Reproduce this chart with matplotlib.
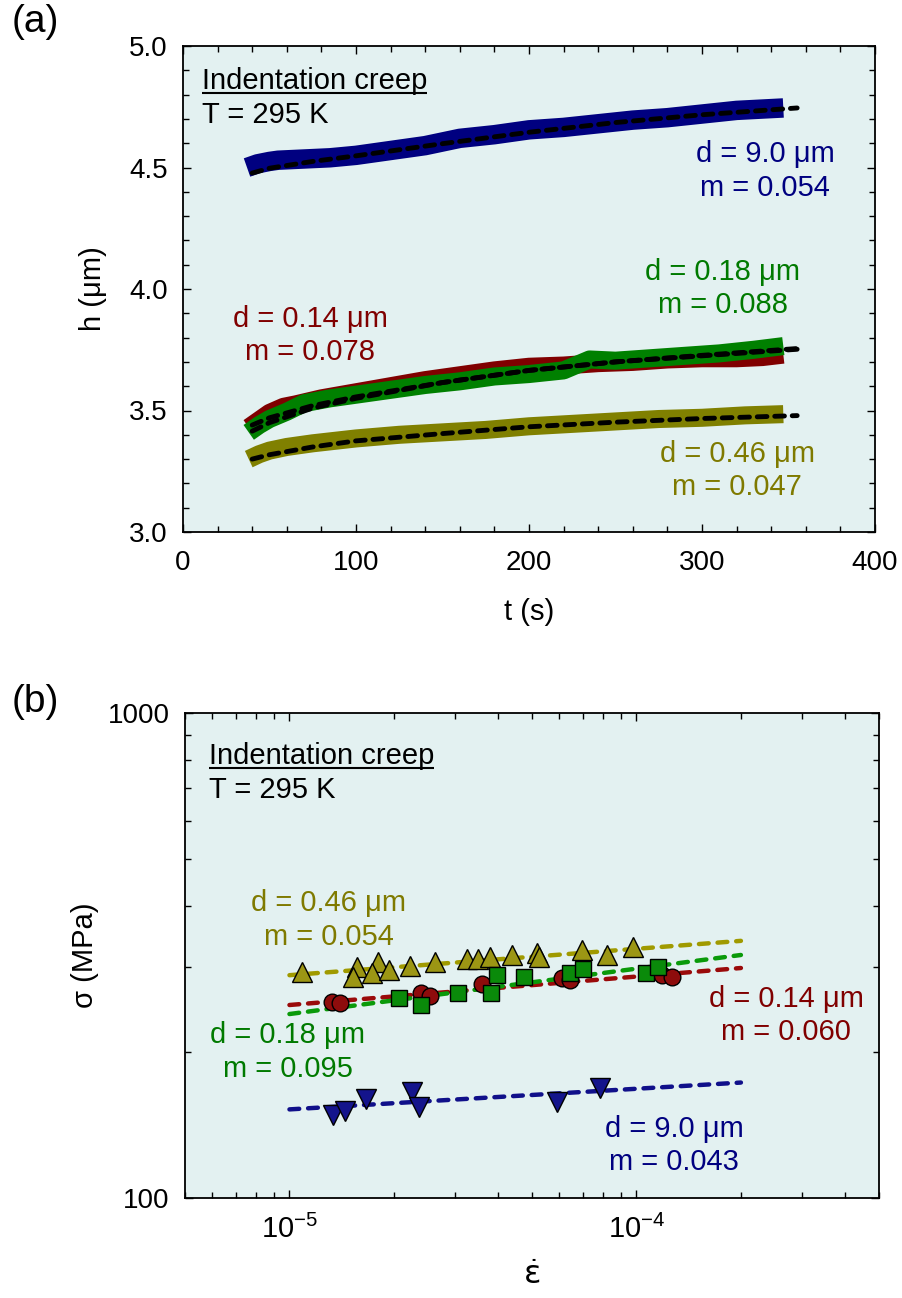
import numpy as np
import matplotlib
matplotlib.use('Agg')
import matplotlib.pyplot as plt
from matplotlib.ticker import MultipleLocator, LogLocator, NullFormatter, FuncFormatter, LogFormatterSciNotation

plt.rcParams['font.family'] = ['Liberation Sans', 'DejaVu Sans']
plt.rcParams['mathtext.default'] = 'regular'
plt.rcParams['axes.unicode_minus'] = False

# ---- panel (a): indentation depth vs time ----
t_blue = [37, 43, 50, 55, 70, 85, 100, 120, 140, 160, 180, 200, 220, 240, 260, 280, 300, 320, 347]
h_blue = [4.50, 4.515, 4.525, 4.53, 4.535, 4.54, 4.55, 4.57, 4.59, 4.62, 4.635, 4.655, 4.665, 4.68,
          4.695, 4.705, 4.72, 4.735, 4.745]
t_red = [38, 44, 50, 58, 65, 80, 100, 120, 140, 160, 180, 200, 220, 240, 260, 280, 300, 320, 335, 347]
h_red = [3.43, 3.46, 3.49, 3.515, 3.525, 3.55, 3.575, 3.60, 3.625, 3.645, 3.665, 3.68, 3.685, 3.695,
         3.70, 3.71, 3.715, 3.715, 3.72, 3.73]
t_green = [38, 44, 50, 60, 70, 85, 100, 120, 140, 160, 180, 200, 220, 235, 250, 270, 290, 310, 330, 347]
h_green = [3.41, 3.44, 3.465, 3.495, 3.53, 3.55, 3.565, 3.585, 3.605, 3.62, 3.64, 3.65, 3.665, 3.71,
           3.705, 3.715, 3.725, 3.735, 3.75, 3.765]
t_olive = [38, 44, 50, 60, 75, 100, 125, 150, 175, 200, 225, 250, 275, 300, 325, 347]
h_olive = [3.30, 3.32, 3.335, 3.35, 3.365, 3.385, 3.40, 3.41, 3.42, 3.435, 3.445, 3.455, 3.465,
           3.47, 3.48, 3.485]

t_fit = [40, 50, 75, 100, 150, 200, 250, 300, 355]
hfit_blue = [4.477, 4.497, 4.525, 4.548, 4.598, 4.645, 4.685, 4.717, 4.745]
hfit_red = [3.44, 3.47, 3.52, 3.556, 3.615, 3.665, 3.70, 3.725, 3.752]
hfit_green = [3.415, 3.45, 3.51, 3.55, 3.615, 3.665, 3.70, 3.727, 3.755]
hfit_olive = [3.30, 3.318, 3.35, 3.375, 3.405, 3.433, 3.452, 3.467, 3.479]

# ---- panel (b): stress vs strain rate ----
rate_fit = [1e-5, 2e-4]
sfit_olive = [288, 339]
sfit_red = [250, 298]
sfit_green = [239.5, 317]
sfit_blue = [152.3, 173]

rate_olive = [1.089e-5, 1.562e-5, 1.521e-5, 1.801e-5, 1.733e-5, 1.94e-5, 2.229e-5, 2.624e-5, 3.256e-5,
              3.486e-5, 3.778e-5, 4.38e-5, 5.18e-5, 5.23e-5, 6.98e-5, 8.21e-5, 9.80e-5]
sig_olive = [292.8, 299.9, 286.0, 307.1, 290.6, 295.2, 300.9, 307.1, 310.6, 310.6, 313.5, 317.0,
             319.6, 314.5, 324.7, 317.0, 328.9]
rate_red = [1.327e-5, 1.40e-5, 2.387e-5, 2.547e-5, 3.592e-5, 6.105e-5, 6.44e-5, 1.181e-4, 1.265e-4]
sig_red = [254.1, 252.8, 264.2, 260.9, 276.3, 283.8, 281.6, 288.3, 286.0]
rate_green = [2.07e-5, 2.387e-5, 3.069e-5, 3.81e-5, 3.972e-5, 4.743e-5, 6.44e-5, 7.03e-5, 1.065e-4, 1.154e-4]
sig_green = [258.1, 250.0, 265.0, 265.0, 288.3, 286.0, 290.6, 296.2, 290.6, 299.9]
rate_blue = [1.339e-5, 1.442e-5, 1.663e-5, 2.262e-5, 2.364e-5, 5.89e-5, 7.85e-5]
sig_blue = [148.3, 151.4, 159.8, 165.6, 154.3, 158.0, 168.3]

BG = '#e3f1f1'
C_BLUE = '#000080'
C_RED = '#800000'
C_GREEN = '#007a00'
C_OLIVE = '#7f7a00'

fig = plt.figure(figsize=(9.03, 12.98), dpi=100)
ax1 = fig.add_axes([183 / 903, 1 - 532 / 1298, 692 / 903, 486 / 1298])
ax2 = fig.add_axes([185 / 903, 1 - 1198 / 1298, 694 / 903, 485 / 1298])


def style_axes(ax):
    ax.set_facecolor(BG)
    for s in ax.spines.values():
        s.set_linewidth(1.3)
    ax.tick_params(which='both', direction='in', top=True, right=True, width=1.0, labelsize=20)
    ax.tick_params(which='major', length=6)
    ax.tick_params(which='minor', length=4)


def underline(ax, txt, dy_px=3.5):
    fig.canvas.draw()
    bb = txt.get_window_extent().transformed(ax.transAxes.inverted())
    y = txt.get_position()[1] - dy_px / ax.bbox.height
    ax.plot([bb.x0, bb.x1], [y, y], transform=ax.transAxes, color='k', lw=1.5,
            solid_capstyle='butt', clip_on=False)


def two_lines(ax, x, y1, y2, l1, l2, color):
    ax.text(x, y1, l1, transform=ax.transAxes, ha='center', va='baseline', fontsize=21, color=color)
    ax.text(x, y2, l2, transform=ax.transAxes, ha='center', va='baseline', fontsize=21, color=color)


# ---------------- (a) ----------------
style_axes(ax1)
ax1.plot(t_blue, h_blue, color=C_BLUE, lw=14, solid_capstyle='butt', solid_joinstyle='round')
ax1.plot(t_red, h_red, color=C_RED, lw=13, solid_capstyle='butt', solid_joinstyle='round')
ax1.plot(t_green, h_green, color='#008000', lw=13, solid_capstyle='butt', solid_joinstyle='round')
ax1.plot(t_olive, h_olive, color='#808000', lw=13, solid_capstyle='butt', solid_joinstyle='round')
for hf in (hfit_blue, hfit_red, hfit_green, hfit_olive):
    ax1.plot(t_fit, hf, color='k', lw=3.5, dashes=(2.0, 1.6), dash_capstyle='round')

ax1.set_xlim(0, 400)
ax1.set_ylim(3.0, 5.0)
ax1.xaxis.set_major_locator(MultipleLocator(100))
ax1.xaxis.set_minor_locator(MultipleLocator(20))
ax1.yaxis.set_major_locator(MultipleLocator(0.5))
ax1.yaxis.set_minor_locator(MultipleLocator(0.1))
ax1.yaxis.set_major_formatter(FuncFormatter(lambda v, p: f'{v:.1f}'))
ax1.tick_params(axis='x', pad=13)
ax1.tick_params(axis='y', pad=11)
ax1.set_xlabel('t (s)', fontsize=21, va='center')
ax1.set_ylabel('h (\u03bcm)', fontsize=21, va='center')
ax1.xaxis.set_label_coords(0.5, -0.165)
ax1.yaxis.set_label_coords(-0.130, 0.5)

t1 = ax1.text(0.027, 0.9115, 'Indentation creep', transform=ax1.transAxes, fontsize=21, va='baseline')
ax1.text(0.027, 0.8416, 'T = 295 K', transform=ax1.transAxes, fontsize=21, va='baseline')
two_lines(ax1, 0.841, 0.761, 0.691, 'd = 9.0 \u03bcm', 'm = 0.054', C_BLUE)
two_lines(ax1, 0.780, 0.5185, 0.4506, 'd = 0.18 \u03bcm', 'm = 0.088', C_GREEN)
two_lines(ax1, 0.1835, 0.4218, 0.354, 'd = 0.14 \u03bcm', 'm = 0.078', C_RED)
two_lines(ax1, 0.8006, 0.144, 0.0761, 'd = 0.46 \u03bcm', 'm = 0.047', C_OLIVE)

# ---------------- (b) ----------------
style_axes(ax2)
ax2.set_xscale('log')
ax2.set_yscale('log')
fit_kw = dict(lw=3.2, dashes=(2.2, 2.0), dash_capstyle='round', zorder=2)
ax2.plot(rate_fit, sfit_olive, color='#a09a00', **fit_kw)
ax2.plot(rate_fit, sfit_red, color='#9a0a0a', **fit_kw)
ax2.plot(rate_fit, sfit_green, color='#0a9a0a', **fit_kw)
ax2.plot(rate_fit, sfit_blue, color='#10108a', **fit_kw)

mk = dict(linestyle='none', markeredgecolor='k', markeredgewidth=1.0, zorder=3)
ax2.plot(rate_olive, sig_olive, marker='^', ms=14, markerfacecolor='#9c9614', **mk)
ax2.plot(rate_red, sig_red, marker='o', ms=12, markerfacecolor='#8e0c0c', **mk)
ax2.plot(rate_green, sig_green, marker='s', ms=11, markerfacecolor='#0a8a0a', **mk)
ax2.plot(rate_blue, sig_blue, marker='v', ms=14, markerfacecolor='#14148c', **mk)

ax2.set_xlim(5e-6, 5e-4)
ax2.set_ylim(100, 1000)
ax2.xaxis.set_major_locator(LogLocator(base=10))
ax2.xaxis.set_minor_locator(LogLocator(base=10, subs=np.arange(2, 10)))
ax2.xaxis.set_major_formatter(LogFormatterSciNotation())
ax2.xaxis.set_minor_formatter(NullFormatter())
ax2.yaxis.set_major_locator(LogLocator(base=10))
ax2.yaxis.set_minor_locator(LogLocator(base=10, subs=np.arange(2, 10)))
ax2.yaxis.set_major_formatter(FuncFormatter(lambda v, p: f'{v:.0f}'))
ax2.yaxis.set_minor_formatter(NullFormatter())
ax2.tick_params(axis='x', pad=12, labelsize=21)
ax2.tick_params(axis='y', pad=11)
ax2.set_xlabel(r'$\dot{\mathrm{\varepsilon}}$', fontsize=23, va='center')
ax2.set_ylabel('\u03c3 (MPa)', fontsize=21, va='center')
ax2.xaxis.set_label_coords(0.5, -0.160)
ax2.yaxis.set_label_coords(-0.144, 0.5)

t2 = ax2.text(0.0346, 0.8948, 'Indentation creep', transform=ax2.transAxes, fontsize=21, va='baseline')
ax2.text(0.0346, 0.8247, 'T = 295 K', transform=ax2.transAxes, fontsize=21, va='baseline')
two_lines(ax2, 0.2068, 0.5924, 0.5216, 'd = 0.46 \u03bcm', 'm = 0.054', C_OLIVE)
two_lines(ax2, 0.866, 0.3944, 0.3258, 'd = 0.14 \u03bcm', 'm = 0.060', C_RED)
two_lines(ax2, 0.1484, 0.3196, 0.2501, 'd = 0.18 \u03bcm', 'm = 0.095', C_GREEN)
two_lines(ax2, 0.7046, 0.1264, 0.0577, 'd = 9.0 \u03bcm', 'm = 0.043', C_BLUE)

fig.text(12 / 903, 1 - 4 / 1298, '(a)', fontsize=28, va='top', ha='left')
fig.text(12 / 903, 1 - 684 / 1298, '(b)', fontsize=28, va='top', ha='left')

underline(ax1, t1)
underline(ax2, t2)

fig.savefig('out.png', dpi=100, facecolor='white')
